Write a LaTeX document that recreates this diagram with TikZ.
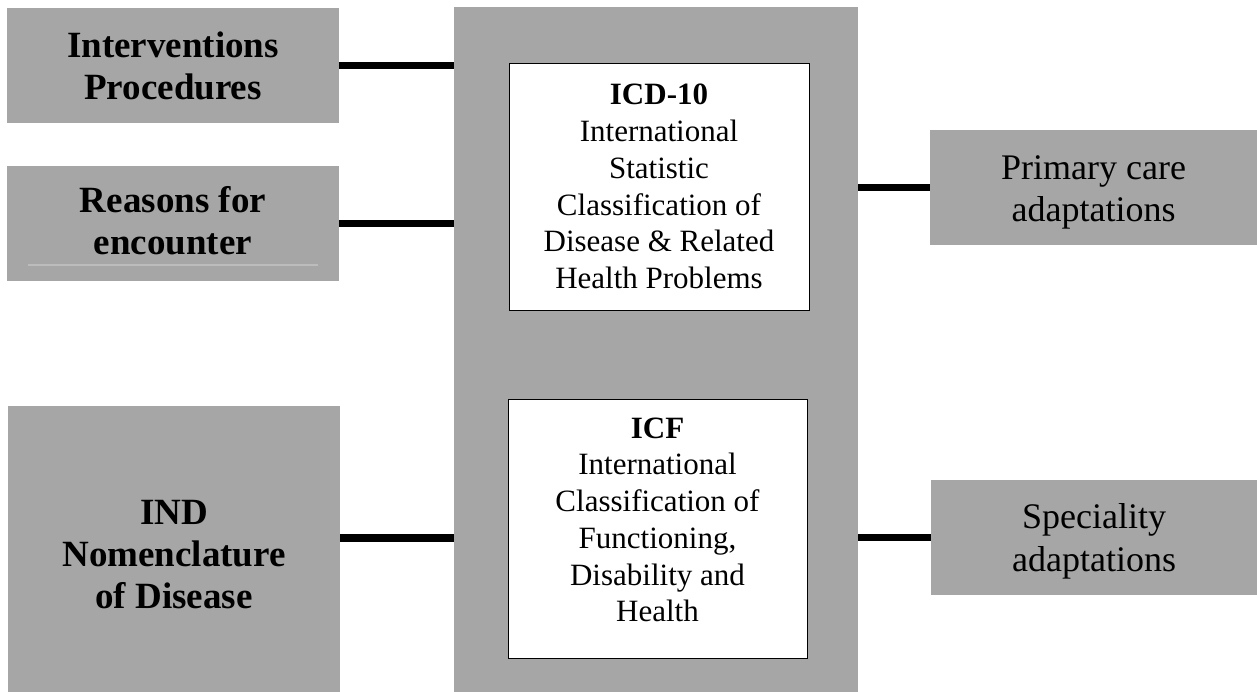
\documentclass[tikz,border=0pt]{standalone}
\usepackage{fontspec}
\setmainfont{Liberation Serif}
\usetikzlibrary{calc}
\definecolor{boxgray}{HTML}{A6A6A6}
\tikzset{
  graybox/.style={fill=boxgray, draw=none, inner sep=0pt},
  whitebox/.style={fill=white, draw=black, line width=0.9pt, inner sep=0pt},
  label text/.style={align=center, inner sep=0pt},
  link/.style={line width=7.5pt, black},
  boldtxt/.style={label text, font=\fontsize{37}{42}\selectfont\bfseries},
  plaintxt/.style={label text, font=\fontsize{36}{42.5}\selectfont},
  innertxt/.style={label text, font=\fontsize{31}{36.7}\selectfont},
}
\begin{document}
\begin{tikzpicture}[x=1pt,y=-1pt]
\useasboundingbox (0,0) rectangle (1257,692);
\fill[white] (0,0) rectangle (1257,692);

% central classification column
\node[graybox, minimum width=404, minimum height=685] (center) at (656,349.5) {};
\node[whitebox, minimum width=300, minimum height=247] (icd) at (659,186.5) {};
\node[innertxt] (icdtext) at (icd.center)
  {\textbf{ICD-10}\\International\\Statistic\\Classification of\\Disease \& Related\\Health Problems};
\node[whitebox, minimum width=299, minimum height=259] (icf) at (657.5,528.5) {};
\node[innertxt, anchor=north] (icftext) at ($(icf.north)+(0,19)$)
  {\textbf{ICF}\\International\\Classification of\\Functioning,\\Disability and\\Health};

% left-hand related classifications
\node[graybox, minimum width=332, minimum height=115] (intv) at (173,65.5) {};
\node[boldtxt] (intvtext) at (intv.center) {Interventions\\Procedures};
\node[graybox, minimum width=332, minimum height=115] (reas) at (173,223.5) {};
\node[boldtxt] (reastext) at ($(reas.center)+(0,-3)$) {Reasons for\\encounter};
\draw[boxgray!75!white, line width=1.5pt]
  ($(reas.south west)+(21,-16)$) -- ($(reas.south east)+(-21,-16)$);
\node[graybox, minimum width=332, minimum height=286] (ind) at (174,549) {};
\node[boldtxt] (indtext) at ($(ind.center)+(0,6)$) {IND\\Nomenclature\\of Disease};

% right-hand derived classifications
\node[graybox, minimum width=327, minimum height=115] (prim) at (1093.5,187.5) {};
\node[plaintxt] (primtext) at ($(prim.center)+(0,5)$) {Primary care\\adaptations};
\node[graybox, minimum width=326, minimum height=115] (spec) at (1094,537.5) {};
\node[plaintxt] (spectext) at ($(spec.center)+(0,4)$) {Speciality\\adaptations};

% connectors
\coordinate (indport) at ($(ind.east)+(0,-11)$);
\draw[link] (intv.east) -- (intv.east -| center.west);
\draw[link] (reas.east) -- (reas.east -| center.west);
\draw[link] (indport) -- (indport -| center.west);
\draw[link] (prim.west) -- (prim.west -| center.east);
\draw[link] (spec.west) -- (spec.west -| center.east);
\end{tikzpicture}
\end{document}
